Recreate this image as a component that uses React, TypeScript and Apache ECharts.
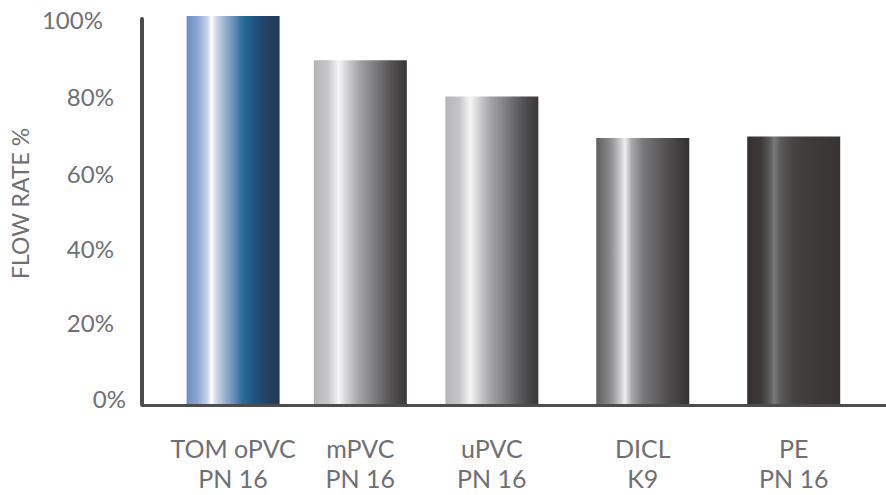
import React, { useEffect, useRef } from "react";
import * as echarts from "echarts";

// Pipe materials shown along the x axis
const categories: string[] = ["TOM oPVC\nPN 16", "mPVC\nPN 16", "uPVC\nPN 16", "DICL\nK9", "PE\nPN 16"];
// Slot of each bar along the horizontal (value) axis
const slotPositions: number[] = [0, 5.9, 12, 19, 26];
// Relative flow rate, %
const flowRates: number[] = [100.8, 89.3, 79.9, 69.1, 69.5];
// Y axis ticks, %
const yTicks: number[] = [0, 20, 40, 60, 80, 100];

type Stop = [number, string];

// Cylindrical shading for each bar: [offset, colour]
const blueShade: Stop[] = [
  [0, "#6d8cc2"], [0.12, "#8ea7d2"], [0.22, "#c5d3ea"], [0.27, "#ffffff"],
  [0.32, "#cbd8ea"], [0.42, "#94afcf"], [0.52, "#5f8bb4"], [0.6, "#2c6b98"],
  [0.72, "#1f5582"], [0.88, "#233f5f"], [1, "#243a55"],
];
const silverShade: Stop[] = [
  [0, "#b5b5b7"], [0.15, "#c6c6c8"], [0.27, "#f6f6f6"], [0.35, "#d4d4d6"],
  [0.48, "#a6a6a9"], [0.6, "#8a8a8d"], [0.75, "#666567"], [0.88, "#4b494a"], [1, "#3b3838"],
];
const ironShade: Stop[] = [
  [0, "#5e5d5f"], [0.15, "#8b8b8d"], [0.25, "#c4c4c6"], [0.31, "#f0f0f0"],
  [0.38, "#a9a9ab"], [0.5, "#7a7a7c"], [0.62, "#676668"], [0.8, "#4c4a4b"], [1, "#343131"],
];
const darkShade: Stop[] = [
  [0, "#34302f"], [0.15, "#3c3a39"], [0.24, "#5a5a5b"], [0.29, "#78787a"],
  [0.36, "#5b5a5b"], [0.48, "#464443"], [0.7, "#3d3a39"], [1, "#363332"],
];
const barShades: Stop[][] = [blueShade, silverShade, silverShade, ironShade, darkShade];

const TEXT = "#6f7073";
const AXIS = "#4d4d4d";
const FONT = "Lato, 'Open Sans', sans-serif";

const gradient = (stops: Stop[]) =>
  new echarts.graphic.LinearGradient(0, 0, 1, 0, stops.map(([offset, color]) => ({ offset, color })));

// Per-tick nudges for the hand-set y labels
const tickStyle: Record<number, { padding: number[] }> = {
  0: { padding: [0, 0, 12, 0] },
  20: { padding: [0, 12, 10, 0] },
  40: { padding: [0, 12, 4, 0] },
  60: { padding: [0, 12, 0, 0] },
  80: { padding: [0, 12, 0, 0] },
  100: { padding: [0, 23, 0, 0] },
};

export default function App() {
  const ref = useRef<HTMLDivElement>(null);

  useEffect(() => {
    if (!ref.current) return;
    const chart = echarts.init(ref.current, undefined, { renderer: "svg" });

    const rich: Record<string, any> = {};
    yTicks.forEach((t) => {
      rich["t" + t] = {
        fontFamily: FONT,
        fontSize: 24,
        fontWeight: 400,
        color: TEXT,
        padding: tickStyle[t].padding,
      };
    });

    chart.setOption({
      animation: false,
      backgroundColor: "#ffffff",
      grid: { left: 138.5, right: 0, top: 19, bottom: 91, containLabel: false },
      xAxis: {
        type: "value",
        min: -4.23,
        max: 30.28,
        offset: 1.5,
        axisLine: { show: true, onZero: false, lineStyle: { color: AXIS, width: 3 } },
        axisTick: { show: false },
        splitLine: { show: false },
        axisLabel: {
          customValues: slotPositions,
          formatter: (v: number) => {
            const i = slotPositions.indexOf(v);
            return i >= 0 ? categories[i] : "";
          },
          margin: 27,
          fontFamily: FONT,
          fontSize: 25,
          fontWeight: 400,
          lineHeight: 30,
          color: TEXT,
          align: "center",
        },
      },
      yAxis: {
        type: "value",
        min: yTicks[0],
        max: yTicks[yTicks.length - 1],
        interval: 20,
        name: "FLOW RATE %",
        nameLocation: "middle",
        nameRotate: 90,
        nameGap: 108,
        nameTextStyle: {
          fontFamily: FONT,
          fontSize: 23,
          fontWeight: 400,
          color: TEXT,
          padding: [0, 0, 0, 16],
        },
        axisLine: { show: true, onZero: false, lineStyle: { color: AXIS, width: 4 } },
        axisTick: { show: false },
        splitLine: { show: false },
        axisLabel: {
          margin: 16,
          formatter: (v: number) => `{t${v}|${v}%}`,
          rich,
        },
      },
      series: [
        {
          type: "bar",
          barWidth: 93,
          clip: false,
          data: slotPositions.map((x, i) => ({
            value: [x, flowRates[i]],
            itemStyle: { color: gradient(barShades[i]) },
          })),
        },
      ],
    });

    return () => chart.dispose();
  }, []);

  return <div ref={ref} style={{ width: 886, height: 495, position: "absolute", left: 0, top: 0 }} />;
}
